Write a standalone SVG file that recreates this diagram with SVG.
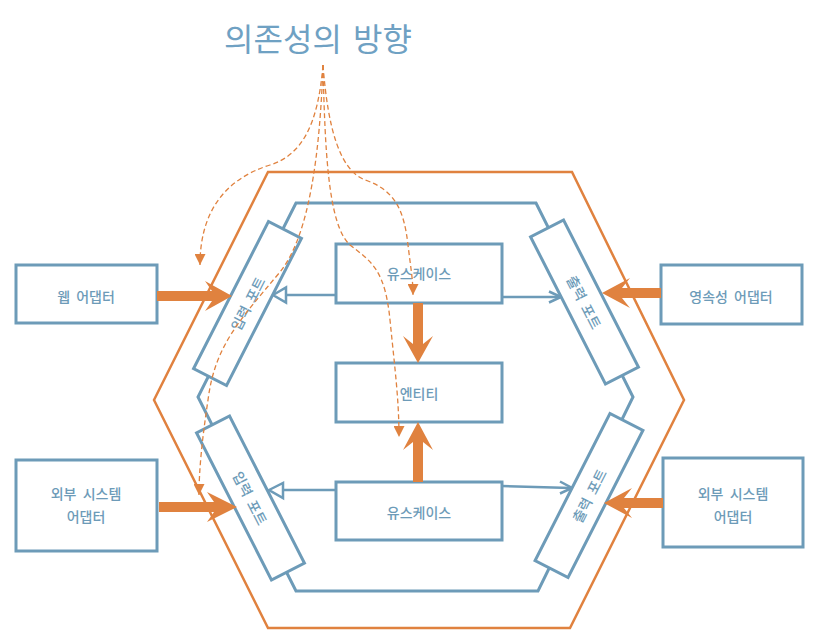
<svg xmlns="http://www.w3.org/2000/svg" width="818" height="630" viewBox="0 0 818 630">
<defs>
<style>
.box{fill:#fff;stroke:#6d9bb8;stroke-width:3}
.lbl{font-family:"Noto Sans CJK KR","Noto Sans",sans-serif;font-size:14px;font-weight:500;word-spacing:3px;fill:#6d9bb8;text-anchor:middle;dominant-baseline:central}
.hexo{fill:none;stroke:#e0823f;stroke-width:2.5;stroke-linejoin:miter}
.hexi{fill:none;stroke:#6d9bb8;stroke-width:3}
.thick{fill:#e0823f;stroke:none}
.blue{fill:none;stroke:#6d9bb8;stroke-width:2.5}
.dash{fill:none;stroke:#e0823f;stroke-width:1.3;stroke-dasharray:5 3}
</style>
<marker id="dh" viewBox="0 0 10 10" refX="10" refY="5" markerWidth="11" markerHeight="11" markerUnits="userSpaceOnUse" orient="auto">
<path d="M0,0 L10,5 L0,10 Z" fill="#e0823f"/>
</marker>
</defs>
<rect width="818" height="630" fill="#fff"/>
<text x="318" y="37" font-family="'Noto Sans CJK KR','Noto Sans',sans-serif" font-size="32" word-spacing="4" fill="#6fa1c3" text-anchor="middle" dominant-baseline="central">의존성의 방향</text>

<g id="layers">
<polygon class="hexo" points="268,172 572,172 684,400 570,628 268,628 154,400"/>
<polygon class="hexi" points="296,203 536,203 633,397 538,591 296,591 198,397"/>
</g>

<g id="connectors">
<line class="blue" x1="336" y1="295" x2="286" y2="295"/>
<polygon points="273,295 286,287.5 286,302.5" fill="#fff" stroke="#6d9bb8" stroke-width="2.5"/>
<line class="blue" x1="502" y1="297" x2="560" y2="297"/>
<polyline class="blue" points="549,291.5 561,297 549,302.5"/>
<line class="blue" x1="336" y1="490" x2="283" y2="490"/>
<polygon points="269,490 283,483 283,498" fill="#fff" stroke="#6d9bb8" stroke-width="2.5"/>
<line class="blue" x1="502" y1="486" x2="571" y2="488"/>
<polyline class="blue" points="560,481.5 572,488 560,493.5"/>
</g>

<g id="port-in-top" transform="translate(247.5,303.5) rotate(27)">
<rect class="box" x="-18.5" y="-82.5" width="37" height="165"/>
<text class="lbl" transform="rotate(-90)">입력 포트</text>
</g>
<g id="port-in-bottom" transform="translate(250.5,498) rotate(-27)">
<rect class="box" x="-18.5" y="-82.5" width="37" height="165"/>
<text class="lbl" transform="rotate(90)">입력 포트</text>
</g>
<g id="port-out-top" transform="translate(584.5,302) rotate(-27)">
<rect class="box" x="-18.5" y="-82.5" width="37" height="165"/>
<text class="lbl" transform="rotate(90)">출력 포트</text>
</g>
<g id="port-out-bottom" transform="translate(589,495.5) rotate(27)">
<rect class="box" x="-18.5" y="-82.5" width="37" height="165"/>
<text class="lbl" transform="rotate(-90)">출력 포트</text>
</g>

<g id="usecase-top">
<rect class="box" x="336" y="244" width="166" height="59"/>
<text class="lbl" x="419" y="273">유스케이스</text>
</g>
<g id="entity">
<rect class="box" x="336" y="363" width="166" height="59"/>
<text class="lbl" x="419" y="393">엔티티</text>
</g>
<g id="usecase-bottom">
<rect class="box" x="336" y="482" width="166" height="58"/>
<text class="lbl" x="419" y="512">유스케이스</text>
</g>

<g id="web-adapter">
<rect class="box" x="16" y="265" width="141" height="58"/>
<text class="lbl" x="86" y="296">웹 어댑터</text>
</g>
<g id="ext-adapter-left">
<rect class="box" x="16" y="460" width="141" height="91"/>
<text class="lbl" x="86" y="493">외부 시스템</text>
<text class="lbl" x="86" y="516">어댑터</text>
</g>
<g id="persistence-adapter">
<rect class="box" x="661" y="265" width="141" height="59"/>
<text class="lbl" x="731" y="296">영속성 어댑터</text>
</g>
<g id="ext-adapter-right">
<rect class="box" x="663" y="458" width="140" height="89"/>
<text class="lbl" x="733" y="493">외부 시스템</text>
<text class="lbl" x="733" y="516">어댑터</text>
</g>

<g id="dependency-arrows">
<polygon class="thick" points="157,291 212,291 205,281 232,296 205,311 212,301 157,301"/>
<polygon class="thick" points="159,502 214,502 207,492 237,507 207,522 214,512 159,512"/>
<polygon class="thick" points="661,288 622,288 630,278 602,293 630,308 622,298 661,298"/>
<polygon class="thick" points="663,498 624,498 632,488 604,503 632,518 624,508 663,508"/>
<polygon class="thick" points="413,303 423,303 423,344 433,336 418,363 403,336 413,344"/>
<polygon class="thick" points="413,482 423,482 423,442 433,450 418,422 403,450 413,442"/>
</g>

<g id="dependency-direction">
<path class="dash" marker-end="url(#dh)" d="M323,65 C318,125 302,155 270,165 C222,180 200,215 200,265"/>
<path class="dash" marker-end="url(#dh)" d="M323,65 C320,150 310,235 280,272 C240,320 215,345 208,400 C202,440 199,470 199,495"/>
<path class="dash" marker-end="url(#dh)" d="M323,65 C325,150 328,225 350,245 C372,262 385,270 390,320 C395,370 399,400 399,437"/>
<path class="dash" marker-end="url(#dh)" d="M323,65 C328,130 340,170 365,180 C395,190 404,210 408,245 C411,270 413,280 413,295"/>
</g>
</svg>
